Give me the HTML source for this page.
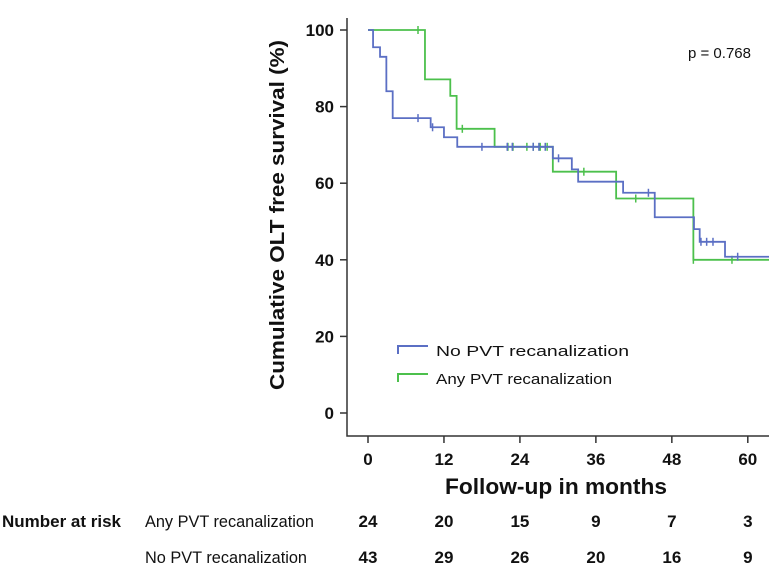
<!DOCTYPE html>
<html><head><meta charset="utf-8"><style>
body{margin:0;background:#fff;width:769px;height:569px;overflow:hidden;font-family:"Liberation Sans",sans-serif}
</style></head><body>
<svg width="769" height="569" xmlns="http://www.w3.org/2000/svg" id="chart">
<g id="axes"></g>
<g id="series"></g>
<text x="688" y="58" font-size="15" fill="#111">p = 0.768</text>
<text transform="translate(284,215) rotate(-90)" text-anchor="middle" font-size="20" font-weight="bold" fill="#111" textLength="350" lengthAdjust="spacingAndGlyphs">Cumulative OLT free survival (%)</text>
<text x="556" y="494" text-anchor="middle" font-size="22" font-weight="bold" fill="#111" textLength="222" lengthAdjust="spacingAndGlyphs">Follow-up in months</text>
<g>
<path d="M398,354 V346 H428" fill="none" stroke="#5b6fc4" stroke-width="2"/>
<text x="436" y="356" font-size="15" fill="#111" textLength="193" lengthAdjust="spacingAndGlyphs">No PVT recanalization</text>
<path d="M398,382 V374 H428" fill="none" stroke="#4cc04c" stroke-width="2"/>
<text x="436" y="384" font-size="15" fill="#111" textLength="176" lengthAdjust="spacingAndGlyphs">Any PVT recanalization</text>
</g>
<g id="risk" font-weight="bold" font-size="17" fill="#111">
<text x="2" y="527" textLength="119" lengthAdjust="spacingAndGlyphs">Number at risk</text>
<text x="145" y="527" font-weight="normal" textLength="169" lengthAdjust="spacingAndGlyphs">Any PVT recanalization</text>
<text x="145" y="563" font-weight="normal" textLength="162" lengthAdjust="spacingAndGlyphs">No PVT recanalization</text>
</g>
</svg>
<script>
const xTicks=[0,12,24,36,48,60];
const yTicks=[0,20,40,60,80,100];
const noTimes=[0,0.8,1.9,2.9,3.9,9.9,12,14.1,29.2,32.2,33.2,40.3,45.3,51.5,52.4,56.4];
const noSurv=[100,95.5,93,84,77,74.6,72,69.5,66.5,63.6,60.4,57.5,51.1,48,44.7,40.8];
const noCens=[7.9,10.2,18,22,22.8,26.1,27,28,30.1,44.3,52.6,53.5,54.5,58.4];
const anyTimes=[0,9,13,14,20,29.2,39.2,51.4];
const anySurv=[100,87.1,82.8,74.2,69.5,63,56,40];
const anyCens=[7.9,14.9,22.1,22.9,25.1,26.1,27.2,28.3,34.1,42.3,51.4,57.5];
const riskAny=[24,20,15,9,7,3];
const riskNo=[43,29,26,20,16,9];
const tEnd=63.5;
const X=t=>368+t*6.33, Y=s=>413-s*3.83;
const NS="http://www.w3.org/2000/svg";
function mk(tag,attrs,parent){const e=document.createElementNS(NS,tag);for(const k in attrs)e.setAttribute(k,attrs[k]);parent.appendChild(e);return e;}
const ax=document.getElementById('axes');
let a=mk('path',{d:`M347,18 V436 H769`,fill:'none',stroke:'#333','stroke-width':1.5},ax);


yTicks.forEach(v=>{
 let l=mk('line',{x1:340,x2:347,y1:Y(v),y2:Y(v),stroke:'#333','stroke-width':1.5},ax);
 
 
 let t=mk('text',{x:334,y:Y(v)+6,'text-anchor':'end','font-size':17,'font-weight':'bold',fill:'#111'},ax);t.textContent=v;
 
 
});
const risk=document.getElementById('risk');
xTicks.forEach((v,i)=>{
 let l=mk('line',{x1:X(v),x2:X(v),y1:436,y2:443,stroke:'#333','stroke-width':1.5},ax);
 
 
 let t=mk('text',{x:X(v),y:465,'text-anchor':'middle','font-size':17,'font-weight':'bold',fill:'#111'},ax);t.textContent=v;
 
 
 let r1=mk('text',{x:X(v),y:527,'text-anchor':'middle'},risk);r1.textContent=riskAny[i];
 
 
 let r2=mk('text',{x:X(v),y:563,'text-anchor':'middle'},risk);r2.textContent=riskNo[i];
 
 
});
const ser=document.getElementById('series');
function survAt(ts,ss,t){let s=ss[0];for(let i=0;i<ts.length;i++)if(ts[i]<=t)s=ss[i];return s;}
function draw(ts,ss,cens,col,name){
 let d=`M${X(ts[0])},${Y(ss[0])}`;
 for(let i=1;i<ts.length;i++){d+=` H${X(ts[i])} V${Y(ss[i])}`;}
 d+=` H${X(tEnd)}`;
 let p=mk('path',{d,fill:'none',stroke:col,'stroke-width':1.8},ser);
 
 
 cens.forEach(c=>{const s=survAt(ts,ss,c);
  let l=mk('line',{x1:X(c),x2:X(c),y1:Y(s)-4,y2:Y(s)+4,stroke:col,'stroke-width':1.5},ser);
  
  
 });
}
draw(anyTimes,anySurv,anyCens,'#4cc04c','any-pvt');
draw(noTimes,noSurv,noCens,'#5b6fc4','no-pvt');
</script>
</body></html>
